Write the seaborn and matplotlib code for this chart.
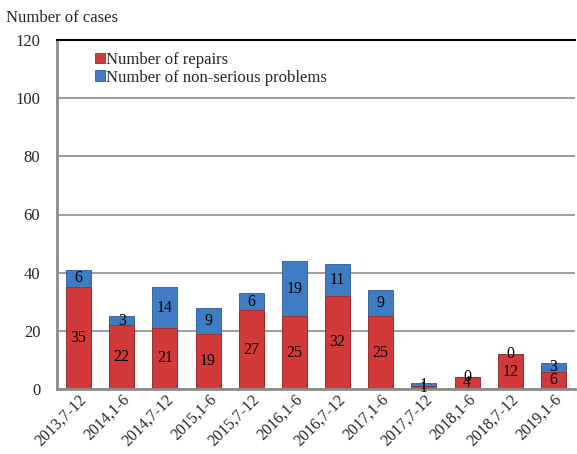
import matplotlib
matplotlib.use("Agg")
import matplotlib.pyplot as plt
import seaborn as sns
import pandas as pd

categories = ["2013,7-12", "2014,1-6", "2014,7-12", "2015,1-6", "2015,7-12", "2016,1-6",
              "2016,7-12", "2017,1-6", "2017,7-12", "2018,1-6", "2018,7-12", "2019,1-6"]
repairs = [35, 22, 21, 19, 27, 25, 32, 25, 1, 4, 12, 6]
non_serious = [6, 3, 14, 9, 6, 19, 11, 9, 1, 0, 0, 3]

sns.set_theme(style="white")
plt.rcParams['font.family'] = ['Liberation Serif', 'DejaVu Serif']

df = pd.DataFrame({"period": categories, "repairs": repairs, "non_serious": non_serious})
df["total"] = df["repairs"] + df["non_serious"]

fig = plt.figure(figsize=(5.77, 4.54), dpi=100)
ax = fig.add_axes([57/577, 1-389/454, 518/577, 349/454])

red = "#d23a3a"
blue = "#3f7cc4"
sns.barplot(data=df, x="period", y="total", color=blue, width=0.58, ax=ax,
            edgecolor="#2c5a96", linewidth=0.6, saturation=1, label="Number of non-serious problems")
sns.barplot(data=df, x="period", y="repairs", color=red, width=0.58, ax=ax,
            edgecolor="#9e2a2a", linewidth=0.6, saturation=1, label="Number of repairs")

for i, (r, n) in enumerate(zip(repairs, non_serious)):
    ax.text(i, r / 2, str(r), ha="center", va="center", fontsize=11.5, color="black")
    ax.text(i, r + n / 2, str(n), ha="center", va="center", fontsize=11.5, color="black")

ax.set_ylim(0, 120)
ax.set_xlim(-0.5, len(categories) - 0.5)
ax.set_yticks(range(0, 121, 20))
ax.yaxis.grid(True, color="#8c8c8c", linewidth=1.2)
ax.set_axisbelow(True)
ax.set_xlabel("")
ax.set_ylabel("")
ax.tick_params(axis="y", labelsize=12, length=0, pad=12)
ax.tick_params(axis="x", labelsize=11.5, length=0, pad=2)
plt.setp(ax.get_xticklabels(), rotation=45, ha="right", rotation_mode="anchor")

for s in ["left", "bottom"]:
    ax.spines[s].set_color("#8c8c8c")
    ax.spines[s].set_linewidth(2)
ax.spines["right"].set_visible(False)
ax.spines["top"].set_color("black")
ax.spines["top"].set_linewidth(1.5)

handles, labels = ax.get_legend_handles_labels()
order = [labels.index("Number of repairs"), labels.index("Number of non-serious problems")]
ax.legend([handles[k] for k in order], [labels[k] for k in order], loc="upper left",
          bbox_to_anchor=(0.06, 0.985), frameon=False, fontsize=12, handlelength=0.6,
          handleheight=0.6, handletextpad=0.1, labelspacing=0.1, borderaxespad=0)

fig.text(6/577, 1-18/454, "Number of cases", fontsize=12, va="center", ha="left")

fig.savefig("out.png", dpi=100)
